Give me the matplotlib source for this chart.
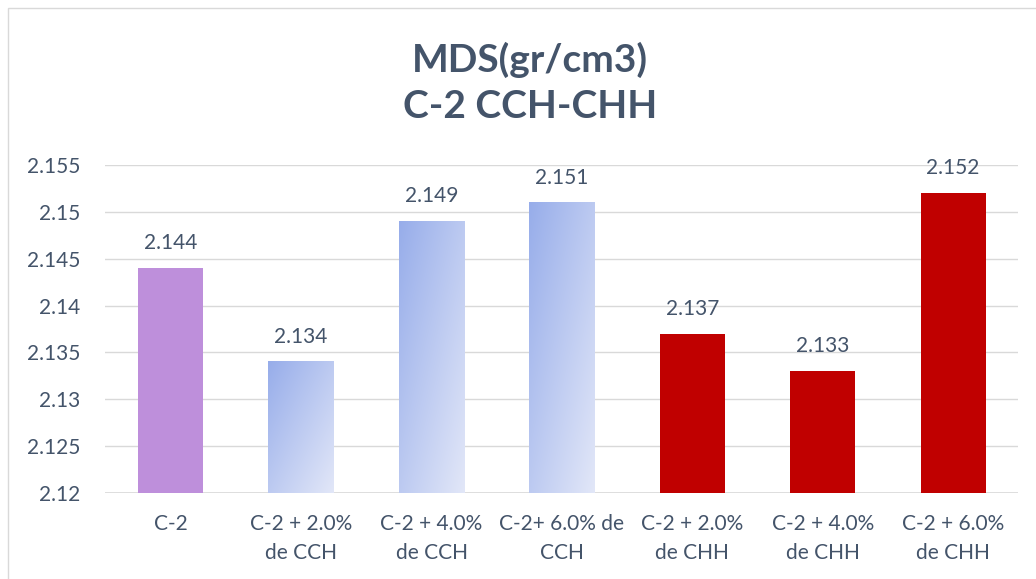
import numpy as np
import matplotlib.pyplot as plt
import matplotlib.colors as mcolors
from matplotlib.patches import Rectangle

plt.rcParams['font.family'] = ['Lato', 'DejaVu Sans']

categories = ['C-2', 'C-2 + 2.0%\nde CCH', 'C-2 + 4.0%\nde CCH', 'C-2+ 6.0% de\nCCH',
              'C-2 + 2.0%\nde CHH', 'C-2 + 4.0%\nde CHH', 'C-2 + 6.0%\nde CHH']
values = [2.144, 2.134, 2.149, 2.151, 2.137, 2.133, 2.152]
fills = ['solid', 'gradient', 'gradient', 'gradient', 'solid', 'solid', 'solid']
solid_colors = ['#BE8FDB', None, None, None, '#C00000', '#C00000', '#C00000']

text_col = '#44546A'
grad_dark = np.array(mcolors.to_rgb('#97ADEA'))
grad_light = np.array(mcolors.to_rgb('#E2E7F8'))

fig = plt.figure(figsize=(10.36, 5.79), dpi=100)
ax = fig.add_axes([0.1018, 0.1485, 0.8812, 0.5665])

ymin, ymax = 2.12, 2.155
x = np.arange(len(values))
width = 0.5

# gradient image template (top-left dark -> bottom-right light)
ny, nx = 100, 60
yy, xx = np.mgrid[0:1:ny * 1j, 0:1:nx * 1j]
t = (xx + yy) / 2.0
grad = grad_dark[None, None, :] * (1 - t[..., None]) + grad_light[None, None, :] * t[..., None]

for i, v in enumerate(values):
    if fills[i] == 'solid':
        ax.bar(x[i], v - ymin, width, bottom=ymin, color=solid_colors[i], zorder=2)
    else:
        ax.imshow(grad, extent=(x[i] - width / 2, x[i] + width / 2, ymin, v),
                  aspect='auto', origin='upper', zorder=2, interpolation='bilinear')
    ax.text(x[i], v + 0.0016, f'{v:.3f}', ha='center', va='bottom',
            fontsize=15, color=text_col, zorder=3)

ax.set_xlim(-0.5, len(values) - 0.5)
ax.set_ylim(ymin, ymax)
ticks = np.arange(2.12, 2.1551, 0.005)
ax.set_yticks(ticks)
ax.set_yticklabels([f'{tk:.3f}'.rstrip('0') for tk in ticks])
ax.set_xticks(x)
ax.set_xticklabels(categories, linespacing=1.6)
ax.tick_params(axis='both', length=0, labelsize=15, labelcolor=text_col)
ax.tick_params(axis='y', pad=18)
ax.tick_params(axis='x', pad=15)
ax.grid(axis='y', color='#D9D9D9', linewidth=1, zorder=0)
ax.set_axisbelow(True)
for s in ax.spines.values():
    s.set_visible(False)
ax.axhline(ymin, color='#D9D9D9', linewidth=1.2, zorder=1)

fig.text(0.512, 0.857, 'MDS(gr/cm3)\nC-2 CCH-CHH', ha='center', va='center',
         fontsize=28, fontweight='bold', color=text_col, linespacing=1.4)

fig.patches.append(Rectangle((8 / 1036, -0.01), 1.1, 1 - 8 / 579 + 0.01,
                             transform=fig.transFigure, fill=False,
                             edgecolor='#D9D9D9', linewidth=1))

fig.savefig('out.png', dpi=100)
